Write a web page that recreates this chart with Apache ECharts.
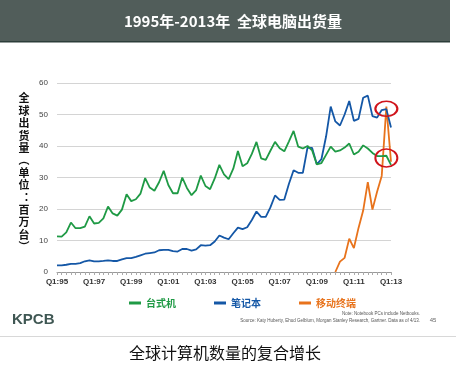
<!DOCTYPE html>
<html><head><meta charset="utf-8">
<script src="https://cdn.jsdelivr.net/npm/echarts@6/dist/echarts.min.js"></script>
<style>html,body{margin:0;padding:0;background:#fff}#c{width:456px;height:371px}</style>
</head><body><div id="c"></div>
<script>
const quarters = [
 'Q1:95','Q2:95','Q3:95','Q4:95','Q1:96','Q2:96','Q3:96','Q4:96','Q1:97','Q2:97','Q3:97','Q4:97',
 'Q1:98','Q2:98','Q3:98','Q4:98','Q1:99','Q2:99','Q3:99','Q4:99','Q1:00','Q2:00','Q3:00','Q4:00',
 'Q1:01','Q2:01','Q3:01','Q4:01','Q1:02','Q2:02','Q3:02','Q4:02','Q1:03','Q2:03','Q3:03','Q4:03',
 'Q1:04','Q2:04','Q3:04','Q4:04','Q1:05','Q2:05','Q3:05','Q4:05','Q1:06','Q2:06','Q3:06','Q4:06',
 'Q1:07','Q2:07','Q3:07','Q4:07','Q1:08','Q2:08','Q3:08','Q4:08','Q1:09','Q2:09','Q3:09','Q4:09',
 'Q1:10','Q2:10','Q3:10','Q4:10','Q1:11','Q2:11','Q3:11','Q4:11','Q1:12','Q2:12','Q3:12','Q4:12',
 'Q1:13'];
const desktop = [
 11.3,11.2,12.6,15.7,13.9,13.9,14.4,17.7,15.4,15.6,
 17,20.8,18.6,17.9,19.8,24.7,22.5,23.1,24.9,29.8,
 26.8,25.8,28.5,32.1,27.6,25,25,30,26.7,24.4,
 26,30.6,27.3,26.3,29.7,34,31,29.5,32.8,38.4,
 33.6,34.5,37.5,41.3,36.1,35.6,38.5,41.3,39.3,38.3,
 41.5,44.8,39.8,39.2,40,38.6,34.2,34.6,37.2,39.8,
 38.2,38.6,39.5,40.8,37.3,38.2,40.2,39.2,37.8,36.8,
 36.8,36.9,34];
const notebook = [
 2.1,2.1,2.3,2.6,2.6,2.8,3.4,3.7,3.4,3.4,
 3.5,3.7,3.5,3.5,4.0,4.4,4.4,4.8,5.3,5.8,
 6.0,6.2,6.9,7.0,7.0,6.6,6.5,7.3,7.3,6.8,
 7.2,8.5,8.4,8.5,9.7,11.6,10.9,10.4,12.3,14.1,
 13.6,14.2,16.5,19.2,17.5,17.5,20.5,24.3,22.9,23.0,
 28,32.3,31.5,31.5,39.5,39.4,34.2,35.8,43,52.5,
 47.8,46.5,50,54.3,48,48.6,55.3,56,49.5,49,
 51.4,51.7,45.9];
const mobile = [
 '-','-','-','-','-','-','-','-','-','-','-','-','-','-','-','-','-','-','-','-',
 '-','-','-','-','-','-','-','-','-','-','-','-','-','-','-','-','-','-','-','-',
 '-','-','-','-','-','-','-','-','-','-','-','-','-','-','-','-','-','-','-','-',
 0,3.3,4.5,10.6,7.6,14,19.5,28.5,19.8,25.5,30.5,52.5,35];
const seriesNames = ['台式机','笔记本','移动终端'];
const seriesColors = ['#1f9a45','#1457a6','#e8731c'];
const circleMarks = [{q:'Q4:12', v:51.8, series:1}, {q:'Q4:12', v:36.2, series:0}];
const yTicks = {min:0, max:60, interval:10};

const chart = echarts.init(document.getElementById('c'));
const values = [desktop, notebook, mobile];
const series = values.map((d, i) => {
  const marks = circleMarks.filter(m => m.series === i).map(m => ({coord:[m.q, m.v]}));
  return {
    name: seriesNames[i], type:'line', data:d, symbol:'none', smooth:false,
    lineStyle:{width:1.8, color:seriesColors[i]}, itemStyle:{color:seriesColors[i]},
    z: 3 - i,
    markPoint: marks.length ? {
      symbol:'circle', symbolSize: i === 1 ? [22,15] : [22,18], silent:true,
      itemStyle:{color:'rgba(0,0,0,0)', borderColor:'#d0141b', borderWidth:1.8},
      label:{show:false}, data:marks
    } : undefined
  };
});
const yName = ['全','球','出','货','量','︵','单','位','︓','百','万','台','︶'].join('\n');
chart.setOption({
  animation:false,
  backgroundColor:'#fff',
  grid:{left:57, right:65, top:83, bottom:99},
  legend:{
    data: seriesNames.map((n,i)=>({name:n, textStyle:{color:seriesColors[i]}})),
    left:124, top:293, itemWidth:12, itemHeight:3, itemGap:38, icon:'rect',
    textStyle:{fontSize:10, fontWeight:'bold', fontFamily:'Noto Sans CJK SC'}
  },
  xAxis:{
    type:'category', data:quarters, boundaryGap:false,
    axisLine:{lineStyle:{color:'#999', width:1}},
    axisTick:{show:true, interval:0, length:3, lineStyle:{color:'#aaa'}},
    axisLabel:{interval:7, color:'#333', fontSize:8, fontWeight:'bold', margin:6, fontFamily:'Liberation Sans'},
    splitLine:{show:false}
  },
  yAxis:{
    type:'value', min:yTicks.min, max:yTicks.max, interval:yTicks.interval,
    axisLine:{show:false}, axisTick:{show:false},
    axisLabel:{color:'#444', fontSize:8, margin:9, fontFamily:'Liberation Sans'},
    splitLine:{lineStyle:{color:'#d4d4d4', width:1}}
  },
  graphic:[
    {type:'rect', shape:{x:0, y:0, width:450, height:41}, style:{fill:'#515d5a'}, z:1},
    {type:'rect', shape:{x:0, y:41, width:450, height:1.5}, style:{fill:'#2c3d39'}, z:1},
    {type:'text', x:233, y:21, z:2, style:{text:'1995年-2013年  全球电脑出货量', fill:'#fff',
      font:'bold 15px "Noto Sans CJK SC"', textAlign:'center', textVerticalAlign:'middle'}},
    {type:'text', x:24, y:92, z:2, style:{text:yName, fill:'#111', lineHeight:12.4,
      font:'bold 11px "Noto Sans CJK SC"', textAlign:'center', textVerticalAlign:'top'}},
    {type:'text', x:12, y:320, z:2, style:{text:'KPCB', fill:'#3f5753',
      font:'bold 15px "Liberation Sans"', textAlign:'left', textVerticalAlign:'middle'}},
    {type:'text', x:420, y:314, z:2, style:{text:'Note: Notebook PCs include Netbooks.', fill:'#555',
      font:'4.5px "Liberation Sans"', textAlign:'right', textVerticalAlign:'middle'}},
    {type:'text', x:420, y:320.5, z:2, style:{text:'Source: Katy Huberty, Ehud Gelblum, Morgan Stanley Research, Gartner. Data as of 4/13.', fill:'#555',
      font:'4.5px "Liberation Sans"', textAlign:'right', textVerticalAlign:'middle'}},
    {type:'text', x:433, y:320, z:2, style:{text:'45', fill:'#666',
      font:'6px "Liberation Sans"', textAlign:'center', textVerticalAlign:'middle'}},
    {type:'rect', shape:{x:0, y:336, width:456, height:1}, style:{fill:'#d8d8d8'}, z:1},
    {type:'text', x:225, y:353, z:2, style:{text:'全球计算机数量的复合增长', fill:'#111',
      font:'16px "Noto Sans CJK SC"', textAlign:'center', textVerticalAlign:'middle'}}
  ],
  series: series
});
</script></body></html>
